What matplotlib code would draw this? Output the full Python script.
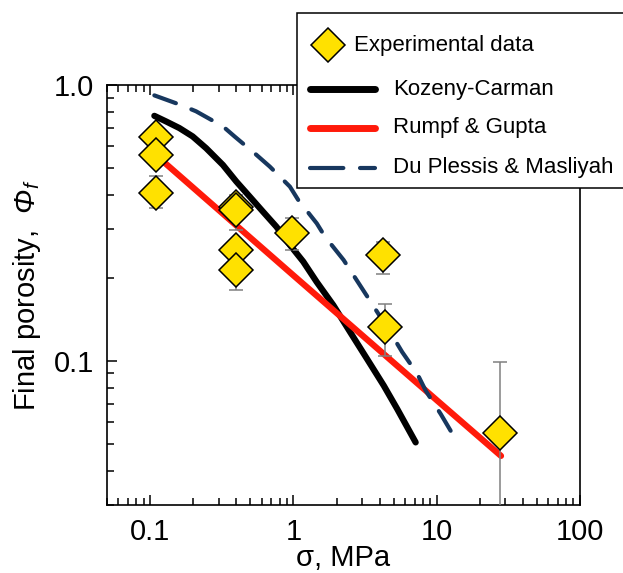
import numpy as np
import matplotlib
matplotlib.use("Agg")
import matplotlib.pyplot as plt
from matplotlib.lines import Line2D
from matplotlib.patches import Rectangle
from matplotlib.ticker import LogLocator, FixedLocator, FixedFormatter, NullFormatter

plt.rcParams['font.family'] = ['Liberation Sans', 'DejaVu Sans']
plt.rcParams['mathtext.fontset'] = 'custom'
plt.rcParams['mathtext.rm'] = 'Liberation Sans'
plt.rcParams['mathtext.it'] = 'Liberation Sans:italic'
# italic capital Greek goes through the cal slot (mathit forces it upright)
plt.rcParams['mathtext.cal'] = 'Liberation Sans:italic'

# experimental data (stress in MPa, final porosity) with error bar extents
exp_stress = [0.11, 0.11, 0.11, 0.40, 0.40, 0.40, 0.40, 0.98, 4.23, 4.33, 27.7]
exp_poro = [0.65, 0.558, 0.407, 0.362, 0.352, 0.252, 0.213, 0.29, 0.241, 0.133, 0.0546]
exp_low = [0.60, 0.52, 0.357, 0.33, 0.298, 0.23, 0.180, 0.252, 0.207, 0.104, 0.01]
exp_high = [0.70, 0.60, 0.469, 0.39, 0.40, 0.27, 0.24, 0.33, 0.27, 0.161, 0.0994]

# model curves
kc_stress = [0.107, 0.129, 0.160, 0.198, 0.246, 0.322, 0.399, 0.495, 0.614, 0.762,
             0.945, 1.17, 1.455, 1.90, 2.49, 3.26, 4.27, 5.30, 7.13]
kc_poro = [0.773, 0.738, 0.698, 0.651, 0.590, 0.513, 0.447, 0.394, 0.347, 0.306,
           0.263, 0.229, 0.193, 0.159, 0.127, 0.1017, 0.0813, 0.0669, 0.0506]

rg_stress = [0.116, 1.0, 10.0, 28.1]
rg_poro = [0.543, 0.204, 0.072, 0.0452]

dpm_stress = [0.107, 0.160, 0.209, 0.322, 0.388, 0.552, 0.684, 0.945, 1.08, 1.455,
              1.66, 2.24, 2.63, 3.35, 4.89, 5.74, 7.32, 8.37, 10.67, 13.97]
dpm_poro = [0.917, 0.850, 0.803, 0.708, 0.651, 0.558, 0.506, 0.428, 0.383, 0.315,
            0.282, 0.232, 0.204, 0.168, 0.1236, 0.1076, 0.0897, 0.078, 0.0641, 0.0506]

labels = ["Experimental data", "Kozeny-Carman", "Rumpf & Gupta", "Du Plessis & Masliyah"]

W, H = 623, 573
fig = plt.figure(figsize=(W / 100, H / 100), dpi=100)
ax = fig.add_axes([107 / W, 1 - 505 / H, (580 - 107) / W, (505 - 85) / H])

kc_color = "black"
rg_color = "#ff1a0a"
dpm_color = "#17375e"
yellow = "#ffe100"

ax.plot(kc_stress, kc_poro, color=kc_color, lw=4.5, solid_capstyle="round",
        solid_joinstyle="round", zorder=2)
ax.plot(rg_stress, rg_poro, color=rg_color, lw=4.5, solid_capstyle="round", zorder=2)
ax.plot(dpm_stress, dpm_poro, color=dpm_color, lw=3, dashes=(5.5, 4),
        dash_capstyle="round", dash_joinstyle="round", zorder=2)

yerr = np.array([np.array(exp_poro) - np.array(exp_low),
                 np.array(exp_high) - np.array(exp_poro)])
ax.errorbar(exp_stress, exp_poro, yerr=yerr, fmt="none", ecolor="#808080",
            elinewidth=1.1, capsize=5, capthick=1.1, zorder=3)
ax.plot(exp_stress, exp_poro, ls="none", marker="D", ms=17, mfc=yellow,
        mec="black", mew=1.1, zorder=4)

ax.set_xscale("log")
ax.set_yscale("log")
ax.set_xlim(0.05, 100)
ax.set_ylim(0.03, 1.0)

ax.xaxis.set_major_locator(FixedLocator([0.1, 1, 10, 100]))
ax.xaxis.set_major_formatter(FixedFormatter(["0.1", "1", "10", "100"]))
ax.xaxis.set_minor_locator(LogLocator(base=10, subs=np.arange(2, 10)))
ax.xaxis.set_minor_formatter(NullFormatter())
ax.yaxis.set_major_locator(FixedLocator([0.1, 1.0]))
ax.yaxis.set_major_formatter(FixedFormatter(["0.1", "1.0"]))
ax.yaxis.set_minor_locator(LogLocator(base=10, subs=np.arange(2, 10)))
ax.yaxis.set_minor_formatter(NullFormatter())

ax.tick_params(which="both", direction="in", top=True, right=False,
               labelsize=21, width=1.1, pad=9)
ax.tick_params(which="major", length=7)
ax.tick_params(which="minor", length=5)
for s in ax.spines.values():
    s.set_linewidth(1.2)

ax.set_xlabel("σ, MPa", fontsize=21, labelpad=-1)
ax.set_ylabel(r"Final porosity,  $\mathcal{Φ}_{\mathit{f}}$", fontsize=21, labelpad=8)

# legend box drawn in figure pixels
def fx(px):
    return px / W

def fy(py):
    return 1 - py / H

fig.add_artist(Rectangle((fx(297), fy(188)), fx(660) - fx(297), fy(13) - fy(188),
                         transform=fig.transFigure, facecolor="white",
                         edgecolor="black", lw=1.1, zorder=10))
fig.add_artist(Line2D([fx(328)], [fy(45)], ls="none", marker="D", ms=17,
                      mfc=yellow, mec="black", mew=1.1, transform=fig.transFigure, zorder=11))
fig.add_artist(Line2D([fx(310), fx(375)], [fy(89), fy(89)], color=kc_color, lw=5,
                      solid_capstyle="round", transform=fig.transFigure, zorder=11))
fig.add_artist(Line2D([fx(310), fx(375)], [fy(128), fy(128)], color=rg_color, lw=5,
                      solid_capstyle="round", transform=fig.transFigure, zorder=11))
fig.add_artist(Line2D([fx(310), fx(375)], [fy(168), fy(168)], color=dpm_color, lw=3,
                      dashes=(8, 4), dash_capstyle="round", transform=fig.transFigure, zorder=11))
fig.text(fx(354), fy(45), labels[0], fontsize=16, va="center", ha="left", zorder=12)
fig.text(fx(393), fy(89), labels[1], fontsize=16, va="center", ha="left", zorder=12)
fig.text(fx(393), fy(128), labels[2], fontsize=16, va="center", ha="left", zorder=12)
fig.text(fx(393), fy(168), labels[3], fontsize=16, va="center", ha="left", zorder=12)

fig.savefig("out.png", dpi=100)
